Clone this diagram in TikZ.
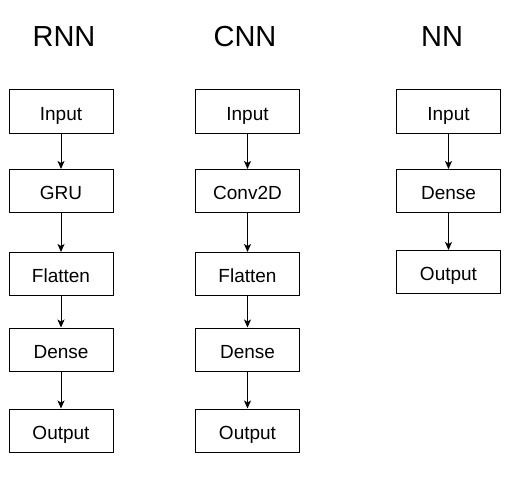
\documentclass[tikz,border=0pt]{standalone}
\usepackage{fontspec}
\setmainfont{Liberation Sans}
\usetikzlibrary{arrows.meta}
\begin{document}
\begin{tikzpicture}[x=1pt,y=-1pt,
  layer/.style={draw=black, line width=1pt, minimum width=104pt, minimum height=43pt,
    inner sep=0pt, text height=17pt, text depth=0pt, font=\fontsize{19}{21}\selectfont},
  title/.style={anchor=base, inner sep=0pt, font=\fontsize{29}{32}\selectfont},
  link/.style={draw=black, line width=1pt, -{Stealth[width=7pt,length=8pt,inset=2pt]}}]
\useasboundingbox (0,0) rectangle (529,484);
\fill[white] (0,0) rectangle (529,484);
% titles
\node[title] (tr) at (64,47) {RNN};
\node[title] (tc) at (245,47) {CNN};
\node[title] (tn) at (442,47) {NN};
% RNN
\node[layer] (r1) at (61,111.5) {Input};
\node[layer] (r2) at (61,191) {GRU};
\node[layer] (r3) at (61,274) {Flatten};
\node[layer] (r4) at (61,349.5) {Dense};
\node[layer] (r5) at (61,430.5) {Output};
% CNN
\node[layer] (c1) at (247.5,111.5) {Input};
\node[layer] (c2) at (247.5,191) {Conv2D};
\node[layer] (c3) at (247.5,274) {Flatten};
\node[layer] (c4) at (247.5,349.5) {Dense};
\node[layer] (c5) at (247.5,430.5) {Output};
% NN
\node[layer] (n1) at (448.5,111.5) {Input};
\node[layer] (n2) at (448.5,191) {Dense};
\node[layer] (n3) at (448.5,272) {Output};
% connectors
\draw[link] (r1) -- (r2);
\draw[link] (r2) -- (r3);
\draw[link] (r3) -- (r4);
\draw[link] (r4) -- (r5);
\draw[link] (c1) -- (c2);
\draw[link] (c2) -- (c3);
\draw[link] (c3) -- (c4);
\draw[link] (c4) -- (c5);
\draw[link] (n1) -- (n2);
\draw[link] (n2) -- (n3);
\end{tikzpicture}
\end{document}
